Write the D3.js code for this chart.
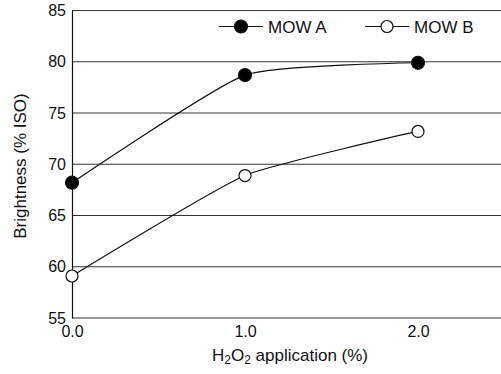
<!DOCTYPE html>
<html><head><meta charset="utf-8">
<script src="https://cdn.jsdelivr.net/npm/d3@7"></script>
<style>body{margin:0;background:#fff}svg{display:block}text{font-family:"Liberation Sans",Arial,sans-serif;fill:#111}</style>
</head><body>
<svg id="c" width="501" height="374"></svg>
<script>
const xValues = [0.0, 1.0, 2.0];
const mowA = [68.2, 78.7, 79.9];
const mowB = [59.1, 68.9, 73.2];
const yTicks = [55, 60, 65, 70, 75, 80, 85];
const xTicks = [0.0, 1.0, 2.0];
const seriesNames = ["MOW A", "MOW B"];

const svg = d3.select("#c");
const x = d3.scaleLinear().domain([0, 2]).range([72, 418]);
const y = d3.scaleLinear().domain([55, 85]).range([318, 10.5]);

// gridlines
svg.append("g").selectAll("line").data(yTicks).join("line")
  .attr("x1", x(0)).attr("x2", 501)
  .attr("y1", d => y(d)).attr("y2", d => y(d))
  .attr("stroke", "#333").attr("stroke-width", 1.1);

// y axis
const yAxis = d3.axisLeft(y).tickValues(yTicks).tickSize(0).tickPadding(6).tickFormat(d3.format("d"));
const gy = svg.append("g").attr("transform", `translate(${x(0)},0)`).call(yAxis);
gy.select(".domain").attr("stroke", "#111").attr("stroke-width", 1.2);
gy.selectAll("text").attr("font-size", 16).attr("font-family", "Liberation Sans, Arial, sans-serif").attr("fill", "#111");

// x axis
const xAxis = d3.axisBottom(x).tickValues(xTicks).tickSize(0).tickPadding(8).tickFormat(d3.format(".1f"));
const gx = svg.append("g").attr("transform", `translate(0,${y(55)})`).call(xAxis);
gx.select(".domain").remove();
gx.selectAll("text").attr("font-size", 16).attr("font-family", "Liberation Sans, Arial, sans-serif").attr("fill", "#111");

// titles
const xt = svg.append("text").attr("x", 290).attr("y", 361).attr("text-anchor", "middle").attr("font-size", 17);
xt.append("tspan").text("H");
xt.append("tspan").text("2").attr("font-size", 12).attr("dy", 3);
xt.append("tspan").text("O").attr("dy", -3);
xt.append("tspan").text("2").attr("font-size", 12).attr("dy", 3);
xt.append("tspan").text(" application (%)").attr("dy", -3);

svg.append("text").attr("transform", "translate(26,166) rotate(-90)")
  .attr("text-anchor", "middle").attr("font-size", 17).text("Brightness (% ISO)");

const line = d3.line().x((d, i) => x(xValues[i])).y(d => y(d)).curve(d3.curveCardinal.tension(0.5));
[mowA, mowB].forEach((s, k) => {
  svg.append("path").attr("d", line(s)).attr("fill", "none").attr("stroke", "#111").attr("stroke-width", 1.2);
  svg.append("g").selectAll("circle").data(s).join("circle")
    .attr("cx", (d, i) => x(xValues[i])).attr("cy", d => y(d))
    .attr("r", k === 0 ? 6.5 : 6)
    .attr("fill", k === 0 ? "#000" : "#fff").attr("stroke", "#111").attr("stroke-width", 1.2);
});

// legend
const legX = [219, 365];
seriesNames.forEach((n, k) => {
  const g = svg.append("g");
  g.append("line").attr("x1", legX[k]).attr("x2", legX[k] + 44).attr("y1", 26.5).attr("y2", 26.5).attr("stroke", "#111").attr("stroke-width", 1.2);
  g.append("circle").attr("cx", legX[k] + 22).attr("cy", 26.5).attr("r", k === 0 ? 6.5 : 6)
    .attr("fill", k === 0 ? "#000" : "#fff").attr("stroke", "#111").attr("stroke-width", 1.2);
  g.append("text").attr("x", legX[k] + 49).attr("y", 32.5).attr("font-size", 17).text(n);
});
</script>
</body></html>
